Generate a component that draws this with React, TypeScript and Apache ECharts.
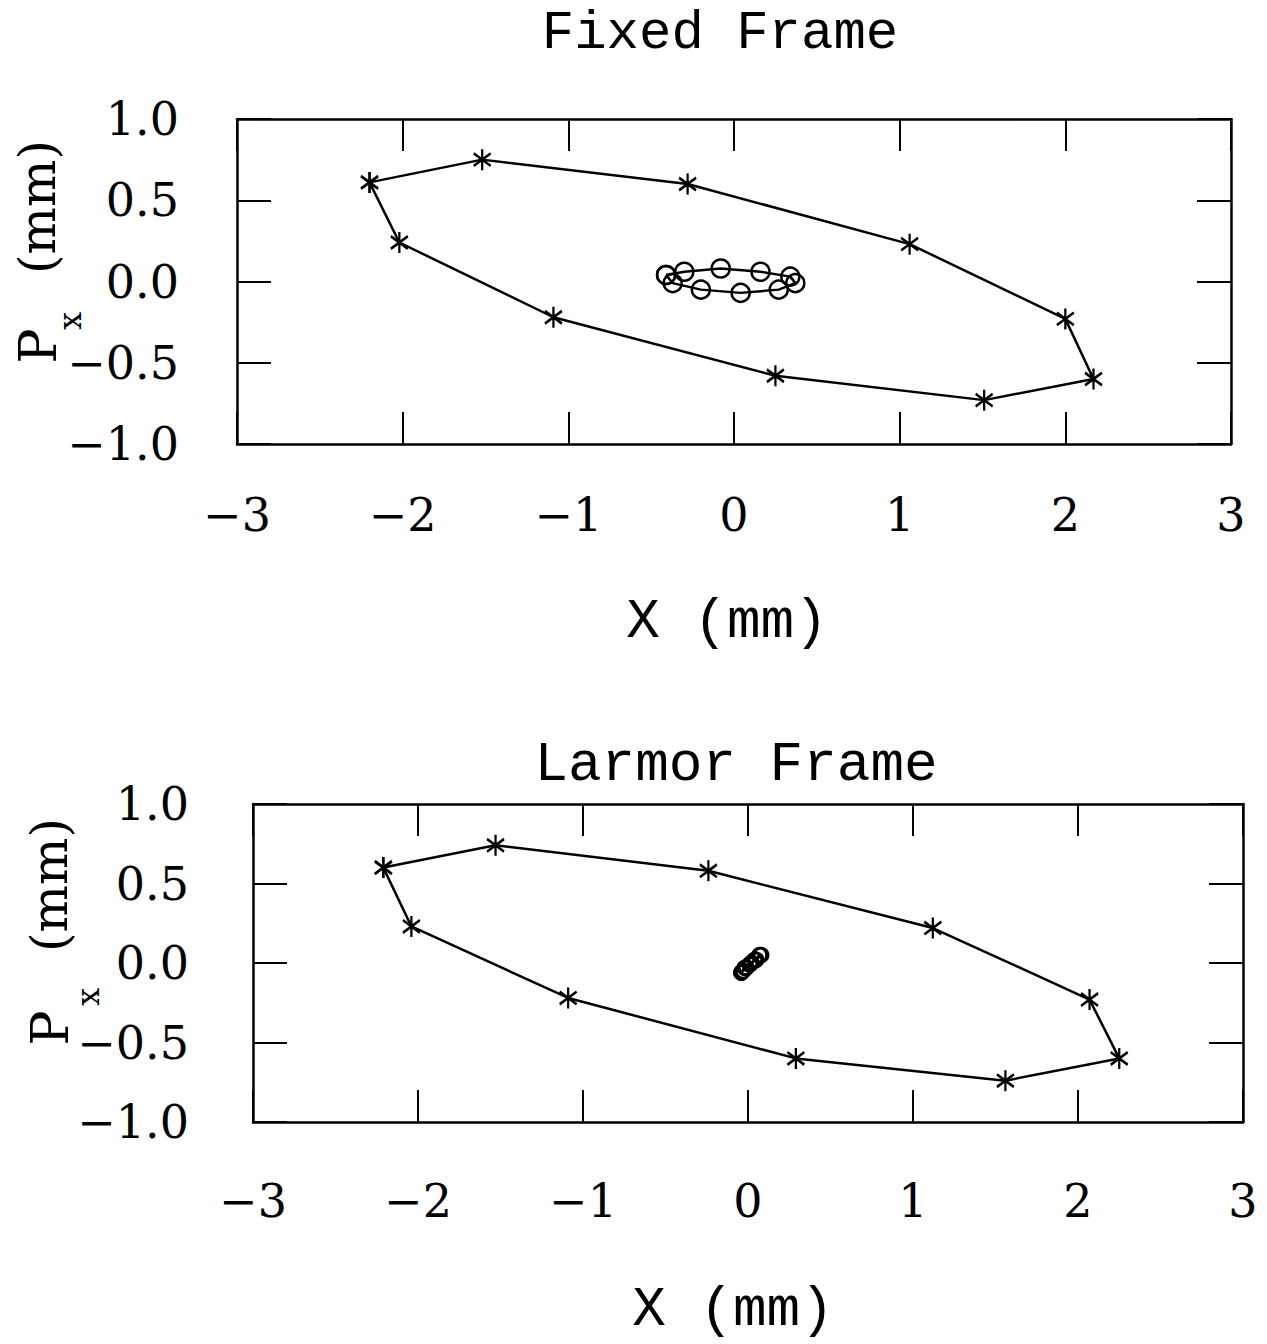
import React, { useEffect, useRef } from "react";
import * as echarts from "echarts";

// Fixed frame: outer beam ellipse (asterisks), inner small ellipse (circles)
const fixedStarX = [-2.2, -1.52, -0.28, 1.06, 2.0, 2.17, 1.51, 0.25, -1.09, -2.02];
const fixedStarY = [0.61, 0.75, 0.6, 0.23, -0.23, -0.6, -0.73, -0.58, -0.22, 0.24];
const fixedCircX = [-0.41, -0.3, -0.08, 0.16, 0.34, 0.37, 0.27, 0.04, -0.2, -0.37];
const fixedCircY = [0.04, 0.06, 0.08, 0.06, 0.03, -0.01, -0.05, -0.07, -0.05, -0.01];

// Larmor frame
const larmorStarX = [-2.21, -1.53, -0.24, 1.12, 2.07, 2.25, 1.56, 0.29, -1.09, -2.04];
const larmorStarY = [0.6, 0.74, 0.58, 0.22, -0.23, -0.6, -0.74, -0.6, -0.22, 0.23];
const larmorCircX = [-0.04, -0.02, 0.01, 0.04, 0.07, 0.08, 0.05, 0.02, -0.01, -0.03];
const larmorCircY = [-0.06, -0.03, -0.01, 0.02, 0.05, 0.05, 0.02, 0.0, -0.03, -0.05];

const xTicks = [-3, -2, -1, 0, 1, 2, 3];
const yTicks = [-1.0, -0.5, 0.0, 0.5, 1.0];

const titles = ["Fixed Frame", "Larmor Frame"];
const xName = "X (mm)";

const STAR = "path://M10,0L10,20M2,4L18,16M2,16L18,4";

function closed(xs: number[], ys: number[]) {
  const pts = xs.map((x, i) => [x, ys[i]]);
  pts.push([xs[0], ys[0]]);
  return pts;
}

const SERIF = "DejaVu Serif";
const MONO = "Liberation Mono";

export default function App() {
  const ref = useRef<HTMLDivElement>(null);
  useEffect(() => {
    if (!ref.current) return;
    const chart = echarts.init(ref.current, null, { renderer: "svg" });

    const grids = [
      { left: 237, right: 36, top: 119, height: 325 },
      { left: 253, right: 24, top: 804, height: 318 },
    ];
    const labelMarginX = [48, 56];
    const labelMarginY = [58, 64];

    const xAxes: any[] = [];
    const yAxes: any[] = [];
    grids.forEach((g, gi) => {
      ["bottom", "top"].forEach((pos) => {
        xAxes.push({
          type: "value",
          gridIndex: gi,
          position: pos,
          min: -3,
          max: 3,
          interval: 1,
          axisLine: { show: true, onZero: false, lineStyle: { color: "#000", width: 2.5 } },
          axisTick: { show: true, inside: true, length: 32, lineStyle: { color: "#000", width: 2 } },
          splitLine: { show: false },
          axisLabel: {
            show: pos === "bottom",
            margin: labelMarginX[gi],
            color: "#000",
            fontFamily: SERIF,
            fontSize: 46,
            formatter: (v: number) => (xTicks.includes(v) ? String(v).replace("-", "\u2212") : ""),
          },
        });
      });
      ["left", "right"].forEach((pos) => {
        yAxes.push({
          type: "value",
          gridIndex: gi,
          position: pos,
          min: -1,
          max: 1,
          interval: 0.5,
          axisLine: { show: true, onZero: false, lineStyle: { color: "#000", width: 2.5 } },
          axisTick: { show: true, inside: true, length: 34, lineStyle: { color: "#000", width: 2 } },
          splitLine: { show: false },
          axisLabel: {
            show: pos === "left",
            margin: labelMarginY[gi],
            color: "#000",
            fontFamily: SERIF,
            fontSize: 46,
            formatter: (v: number) =>
              yTicks.some((t) => Math.abs(t - v) < 1e-9) ? v.toFixed(1).replace("-", "\u2212") : "",
          },
        });
      });
    });

    const starSeries = (xs: number[], ys: number[], gi: number) => ({
      type: "line",
      xAxisIndex: gi * 2,
      yAxisIndex: gi * 2,
      data: closed(xs, ys),
      symbol: STAR,
      symbolSize: [17, 21],
      showAllSymbol: true,
      lineStyle: { color: "#000", width: 2.5 },
      itemStyle: { color: "#000", borderColor: "#000", borderWidth: 2.5 },
      z: 3,
    });
    const circSeries = (xs: number[], ys: number[], gi: number, size: number) => ({
      type: "line",
      xAxisIndex: gi * 2,
      yAxisIndex: gi * 2,
      data: closed(xs, ys),
      symbol: "circle",
      symbolSize: size,
      showAllSymbol: true,
      lineStyle: { color: "#000", width: 2.5 },
      itemStyle: { color: "rgba(0,0,0,0)", borderColor: "#000", borderWidth: 2.5 },
      z: 4,
    });

    const ytitle = (cx: number, py: number, sx: number, sy: number, my: number) => [
      {
        type: "text",
        x: cx,
        y: py,
        rotation: Math.PI / 2,
        style: { text: "P", font: `52px '${SERIF}'`, fill: "#000", align: "center", verticalAlign: "middle" },
      },
      {
        type: "text",
        x: sx,
        y: sy,
        rotation: Math.PI / 2,
        style: { text: "x", font: `32px '${SERIF}'`, fill: "#000", align: "center", verticalAlign: "middle" },
      },
      {
        type: "text",
        x: cx,
        y: my,
        rotation: Math.PI / 2,
        style: { text: "(mm)", font: `50px '${SERIF}'`, fill: "#000", align: "center", verticalAlign: "middle" },
      },
    ];

    const option: any = {
      animation: false,
      backgroundColor: "#fff",
      grid: grids,
      xAxis: xAxes,
      yAxis: yAxes,
      series: [
        starSeries(fixedStarX, fixedStarY, 0),
        circSeries(fixedCircX, fixedCircY, 0, 18),
        starSeries(larmorStarX, larmorStarY, 1),
        circSeries(larmorCircX, larmorCircY, 1, 14),
      ],
      graphic: [
        {
          type: "text",
          x: 720,
          y: 33,
          style: { text: titles[0], font: `54px '${MONO}'`, fill: "#000", align: "center", verticalAlign: "middle" },
        },
        {
          type: "text",
          x: 736,
          y: 765,
          style: { text: titles[1], font: `56px '${MONO}'`, fill: "#000", align: "center", verticalAlign: "middle" },
        },
        {
          type: "text",
          x: 727,
          y: 622,
          style: { text: xName, font: `56px '${MONO}'`, fill: "#000", align: "center", verticalAlign: "middle" },
        },
        {
          type: "text",
          x: 733,
          y: 1310,
          style: { text: xName, font: `56px '${MONO}'`, fill: "#000", align: "center", verticalAlign: "middle" },
        },
        ...ytitle(38, 346, 70, 321, 207),
        ...ytitle(50, 1028, 88, 997, 885),
      ],
    };
    chart.setOption(option);
    return () => chart.dispose();
  }, []);
  return (
    <div
      ref={ref}
      style={{ position: "absolute", left: 0, top: 0, width: 1267, height: 1344, background: "#fff" }}
    />
  );
}
